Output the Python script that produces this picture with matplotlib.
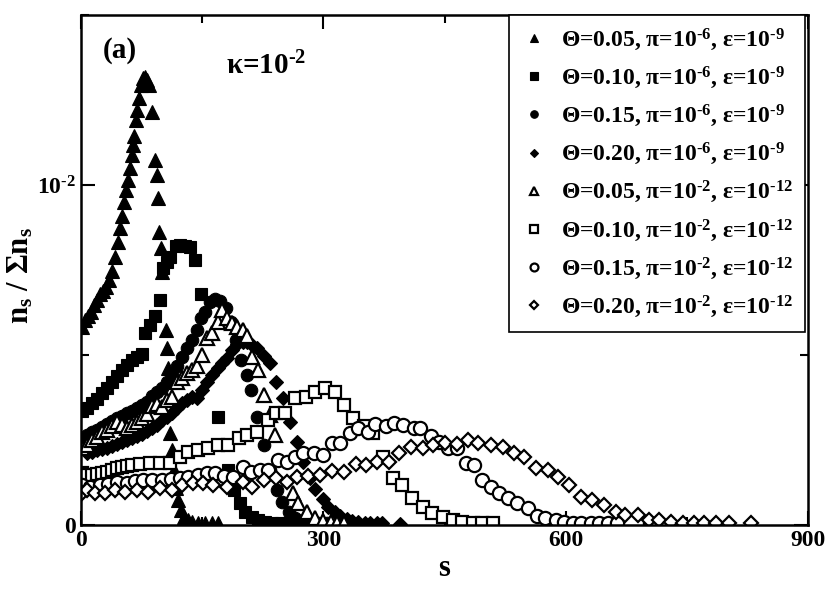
import matplotlib
matplotlib.use("Agg")
import matplotlib.pyplot as plt
import numpy as np

plt.rcParams['font.family'] = ['Liberation Serif', 'DejaVu Serif']
plt.rcParams['font.weight'] = 'bold'
plt.rcParams['mathtext.fontset'] = 'custom'
plt.rcParams['mathtext.rm'] = 'Liberation Serif:bold'
plt.rcParams['mathtext.it'] = 'Liberation Serif:bold'
plt.rcParams['mathtext.bf'] = 'Liberation Serif:bold'

# ---- data (y in units of 1e-3) ----
s1 = [1,5,9,12,16,20,24,27,31,35,38,42,46,48,51,53,56,58,61,63,64,66,68,69,72,74,77,79,82,84,88,92,94,95,97,99,100,105,107,108,110,113,115,118,120,124,128,133,138,145,154,162,170]
y1 = [5.82,6.03,6.15,6.26,6.47,6.62,6.79,6.88,7.00,7.21,7.47,7.88,8.32,8.74,9.09,9.50,9.85,10.15,10.50,10.88,11.18,11.44,11.91,12.21,12.56,12.94,13.15,13.18,13.09,12.94,12.15,10.74,10.29,9.62,8.62,8.15,7.44,5.74,5.21,4.62,2.71,2.21,1.62,1.09,0.74,0.44,0.24,0.15,0.09,0.06,0.06,0.06,0.06]

s2 = [1,7,14,20,26,32,38,45,51,57,63,69,76,79,86,92,98,102,107,110,117,123,129,135,141,148,170,182,190,197,203,212,219,228,237,247,257]
y2 = [3.35,3.44,3.59,3.71,3.88,4.03,4.21,4.38,4.56,4.71,4.85,4.94,5.03,5.65,5.88,6.15,6.62,7.56,7.74,7.88,8.21,8.24,8.21,8.18,7.79,6.79,3.18,1.62,1.03,0.65,0.38,0.24,0.15,0.09,0.06,0.06,0.06]

s3 = [1,7,14,20,26,32,38,45,51,57,63,69,76,82,88,94,100,107,113,119,125,131,138,144,149,154,160,166,172,180,186,192,198,205,210,218,226,234,243,249,257,265,274,284,294,304]
y3 = [2.50,2.65,2.74,2.79,2.88,2.97,3.06,3.15,3.21,3.29,3.35,3.44,3.53,3.62,3.79,3.91,4.03,4.21,4.41,4.68,4.94,5.21,5.44,5.74,6.09,6.26,6.56,6.65,6.59,6.38,5.97,5.44,4.85,4.41,3.97,3.18,2.35,1.62,1.03,0.68,0.38,0.21,0.12,0.06,0.06,0.06]

s4 = [1,7,14,20,26,32,38,45,51,57,63,69,76,82,88,94,100,107,113,119,125,131,138,144,150,156,162,169,175,181,187,193,200,206,212,218,226,234,242,250,259,267,275,283,290,299,306,314,321,329,336,343,351,358,366,373,395]
y4 = [2.26,2.12,2.15,2.21,2.24,2.26,2.32,2.38,2.44,2.50,2.56,2.62,2.68,2.76,2.85,2.94,3.09,3.18,3.29,3.44,3.59,3.68,3.76,3.74,3.97,4.21,4.41,4.62,4.76,4.91,5.15,5.32,5.38,5.38,5.29,5.21,4.97,4.76,4.21,3.74,3.03,2.44,1.85,1.38,1.06,0.76,0.53,0.38,0.26,0.18,0.12,0.09,0.06,0.06,0.06,0.06,0.03]

s5 = [1,7,14,20,26,32,38,45,51,57,63,69,76,82,88,94,100,107,113,119,125,131,138,144,150,156,162,169,175,181,187,193,200,206,212,219,226,234,240,262,269,280,290,300,309,317,326]
y5 = [2.26,2.35,2.50,2.59,2.74,2.79,2.91,3.03,2.94,2.85,2.94,3.03,3.15,3.26,3.50,3.56,3.47,3.68,3.76,4.21,4.32,4.47,4.56,4.68,5.00,5.50,5.65,5.97,6.32,6.09,5.94,5.82,5.74,5.56,4.94,4.56,3.82,3.24,2.65,0.94,0.65,0.38,0.21,0.12,0.09,0.06,0.06]

s6 = [1,7,14,20,26,32,38,45,51,57,63,73,86,98,110,123,133,145,157,170,182,195,206,218,231,242,253,265,278,290,302,315,325,337,350,362,374,386,398,410,423,435,448,460,472,485,497,510]
y6 = [1.53,1.47,1.47,1.50,1.53,1.56,1.62,1.68,1.71,1.74,1.76,1.79,1.82,1.82,1.82,2.00,2.15,2.21,2.26,2.35,2.35,2.56,2.65,2.74,3.09,3.29,3.29,3.74,3.76,3.91,4.03,3.91,3.53,3.15,2.91,2.71,2.00,1.38,1.18,0.79,0.53,0.35,0.24,0.15,0.09,0.06,0.06,0.06]

s7 = [1,11,24,33,45,57,67,77,88,100,112,123,133,145,156,166,177,188,200,210,222,232,244,255,265,275,288,299,311,321,333,343,355,364,377,387,399,412,420,433,443,454,466,476,486,497,507,517,529,540,553,565,575,588,598,609,619,631,641,652,664,705]
y7 = [1.18,1.12,1.18,1.21,1.26,1.24,1.29,1.32,1.32,1.32,1.35,1.38,1.41,1.47,1.53,1.53,1.44,1.41,1.71,1.56,1.62,1.62,1.91,1.85,2.00,2.12,2.12,2.06,2.41,2.41,2.71,2.85,2.74,2.97,2.91,3.00,2.94,2.85,2.85,2.62,2.44,2.26,2.26,1.82,1.76,1.32,1.12,0.94,0.79,0.65,0.50,0.26,0.21,0.15,0.09,0.06,0.06,0.06,0.06,0.06,0.06,0.06]

s8 = [1,7,17,30,42,55,69,83,98,113,125,139,151,164,181,200,212,226,241,255,268,281,296,311,325,340,353,367,381,394,408,423,436,450,465,479,492,507,522,536,549,563,578,590,604,619,633,647,662,674,689,703,715,730,745,759,771,786,802,829]
y8 = [0.94,1.03,0.94,0.94,1.03,0.97,1.03,0.97,1.09,1.03,1.18,1.24,1.24,1.18,1.12,1.26,1.12,1.32,1.38,1.26,1.41,1.44,1.47,1.59,1.56,1.79,1.76,1.85,1.85,2.12,2.29,2.26,2.35,2.41,2.38,2.50,2.41,2.35,2.29,2.12,2.00,1.68,1.62,1.41,1.18,0.82,0.74,0.59,0.38,0.29,0.29,0.15,0.15,0.09,0.06,0.06,0.06,0.06,0.06,0.06]

H = '\u2010'  # short hyphen used in the exponents
labels = [
    'Θ=0.05, π=10$^{%s6}$, ε=10$^{%s9}$' % (H, H),
    'Θ=0.10, π=10$^{%s6}$, ε=10$^{%s9}$' % (H, H),
    'Θ=0.15, π=10$^{%s6}$, ε=10$^{%s9}$' % (H, H),
    'Θ=0.20, π=10$^{%s6}$, ε=10$^{%s9}$' % (H, H),
    'Θ=0.05, π=10$^{%s2}$, ε=10$^{%s12}$' % (H, H),
    'Θ=0.10, π=10$^{%s2}$, ε=10$^{%s12}$' % (H, H),
    'Θ=0.15, π=10$^{%s2}$, ε=10$^{%s12}$' % (H, H),
    'Θ=0.20, π=10$^{%s2}$, ε=10$^{%s12}$' % (H, H),
]
xs = [s1, s2, s3, s4, s5, s6, s7, s8]
ys = [y1, y2, y3, y4, y5, y6, y7, y8]
markers = ['^', 's', 'o', 'D', '^', 's', 'o', 'D']
filled = [True, True, True, True, False, False, False, False]
msizes = [10.5, 8.5, 9, 7, 9.5, 8.5, 9.5, 7]

fig = plt.figure(figsize=(8.3, 5.95), dpi=100)
ax = fig.add_axes([81/830, 1-525/595, (808-81)/830, (525-15)/595])

for x, y, m, f, ms, lab in zip(xs, ys, markers, filled, msizes, labels):
    y = np.array(y) * 1e-3
    if f:
        ax.plot(x, y, linestyle='none', marker=m, ms=ms, mfc='black', mec='black', mew=0.8, label=lab)
    else:
        ax.plot(x, y, linestyle='none', marker=m, ms=ms, mfc='white', mec='black', mew=1.6, label=lab)

ax.set_xlim(0, 900)
ax.set_ylim(0, 0.015)
ax.set_xticks([0, 300, 600, 900])
ax.set_xticks([150, 450, 750], minor=True)
ax.set_yticks([0, 0.01])
ax.set_yticklabels(['0', '10$^{%s2}$' % H])
ax.set_yticks([0.005, 0.015], minor=True)
ax.tick_params(which='both', direction='in', top=True, right=True, width=1.5, labelsize=17)
ax.tick_params(which='major', length=10)
ax.tick_params(which='minor', length=6)
for sp in ax.spines.values():
    sp.set_linewidth(1.8)
for t in ax.get_xticklabels() + ax.get_yticklabels():
    t.set_fontweight('bold')

ax.set_xlabel('s', fontsize=22, fontweight='bold', labelpad=2)
ax.set_ylabel(r'n$_s$ / Σn$_s$', fontsize=22, fontweight='bold')
ax.yaxis.set_label_coords(-0.062, 0.49)

ax.text(0.03, 0.93, '(a)', transform=ax.transAxes, fontsize=21, fontweight='bold', va='center', ha='left')
ax.text(0.20, 0.90, 'κ=10$^{%s2}$' % H, transform=ax.transAxes, fontsize=21, fontweight='bold', va='center', ha='left')

leg = ax.legend(loc='upper right', bbox_to_anchor=(0.996, 1.0), fontsize=17, markerscale=0.6,
                frameon=True, fancybox=False, edgecolor='black', framealpha=1,
                handlelength=1.1, handletextpad=0.6, labelspacing=0.5, borderpad=0.5, borderaxespad=0.0)
leg.get_frame().set_linewidth(1.2)

fig.savefig('out.png', dpi=100)
